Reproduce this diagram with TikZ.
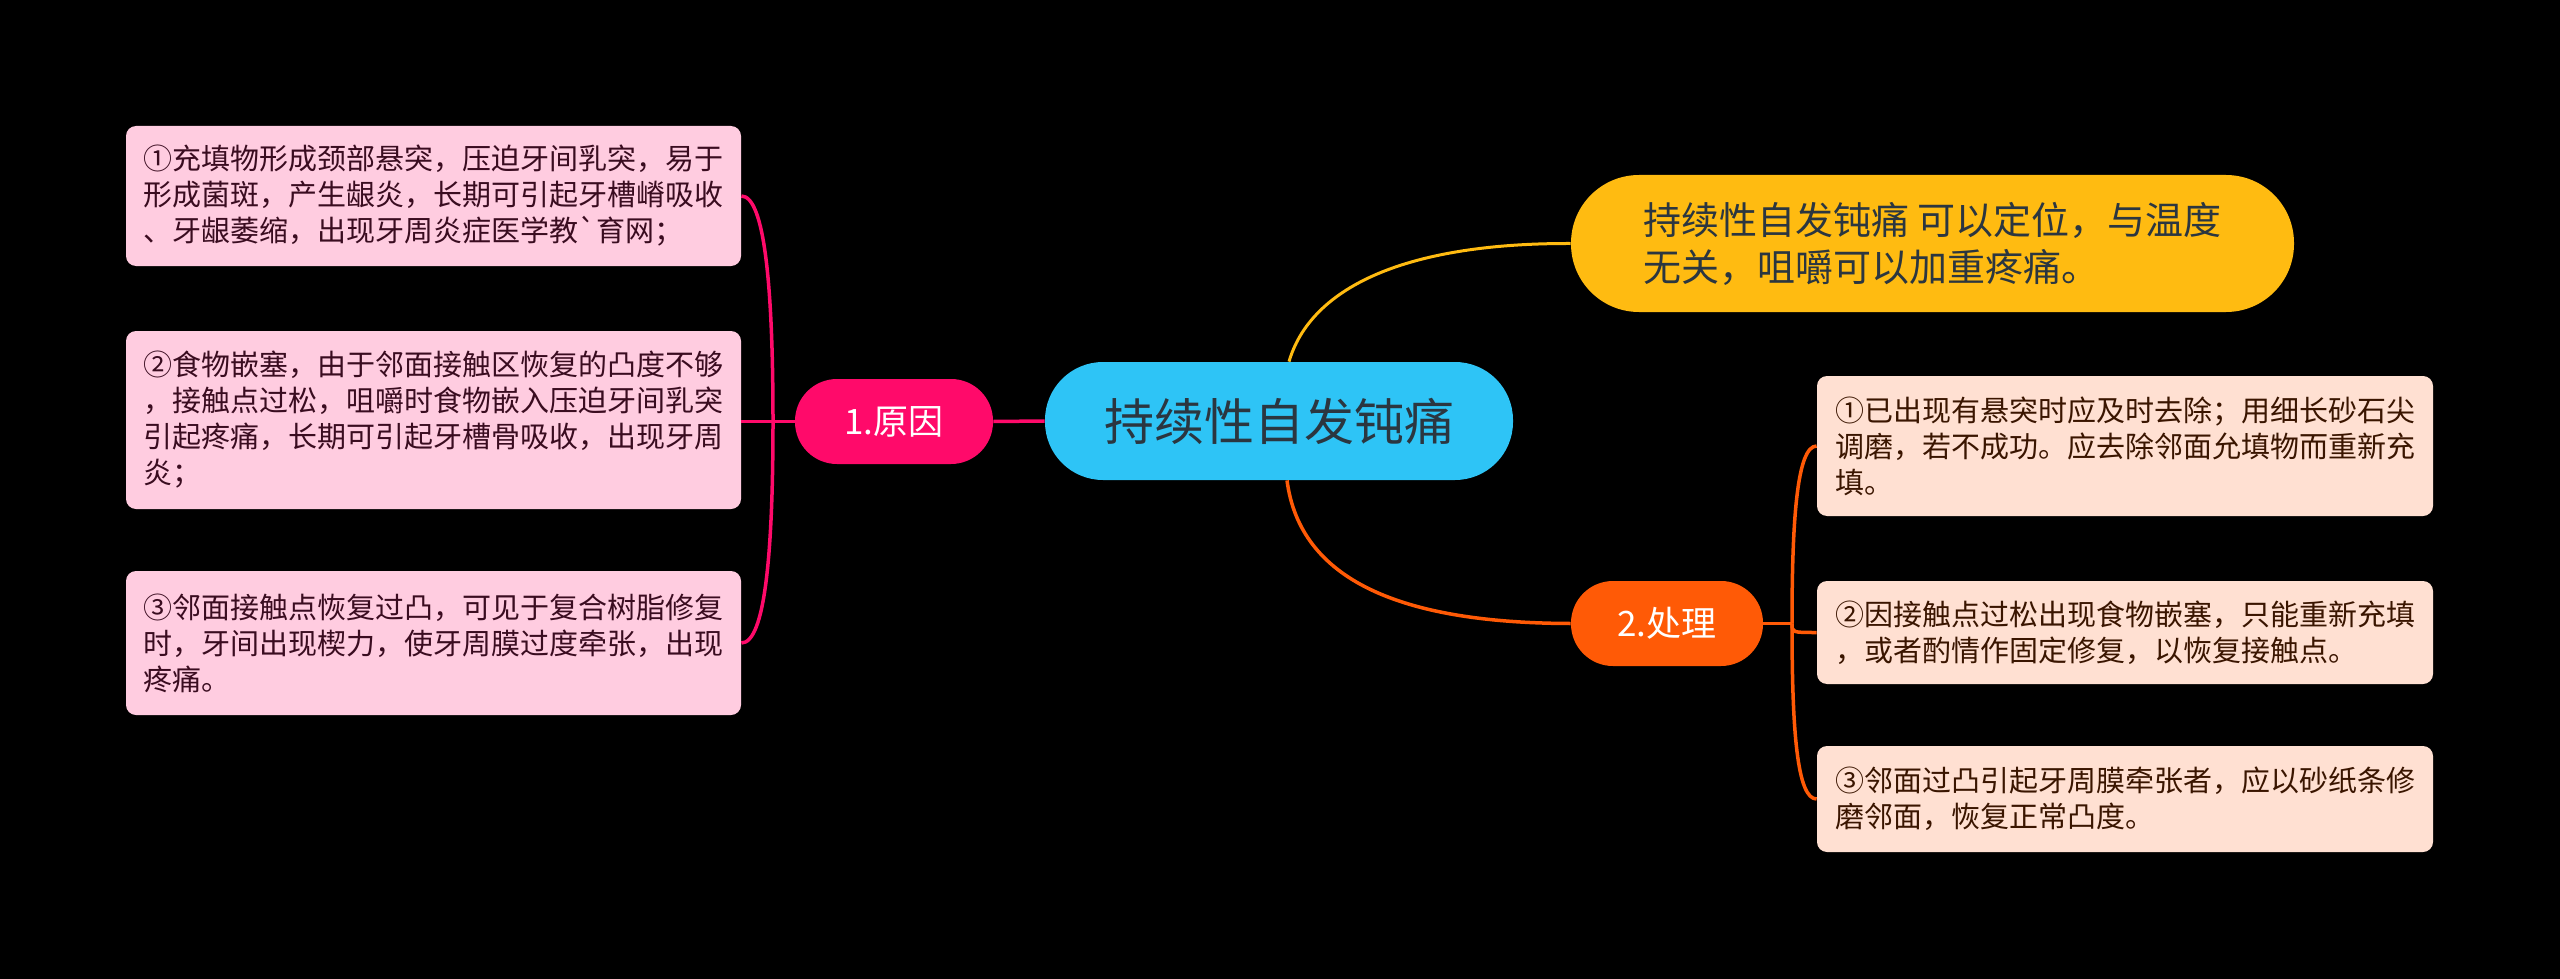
\documentclass[tikz,border=0pt]{standalone}
\usepackage{fontspec}
\setmainfont{Noto Sans CJK SC}[Ligatures=TeXOff]
\definecolor{cmain}{HTML}{2EC4F6}
\definecolor{ctext}{HTML}{2B3640}
\definecolor{cpink}{HTML}{FF0A6A}
\definecolor{cpinkbox}{HTML}{FFCCE0}
\definecolor{cpinktext}{HTML}{3A0C20}
\definecolor{cyel}{HTML}{FFBB11}
\definecolor{corange}{HTML}{FF5A06}
\definecolor{cpeach}{HTML}{FFE0D2}
\definecolor{cpeachtext}{HTML}{3A1500}
\begin{document}
\begin{tikzpicture}[x=0.5pt,y=-0.5pt,
  mainnode/.style={fill=cmain, rounded corners=29pt, minimum width=234pt, minimum height=59pt,
    inner sep=0pt, text=ctext, font=\fontsize{25}{30}\selectfont},
  branchnode/.style={rounded corners=21pt, minimum height=42.5pt, inner sep=0pt,
    text=white, font=\fontsize{17.5}{21}\selectfont},
  leafbox/.style={rounded corners=5pt, minimum width=307.5pt, inner sep=0pt, align=left,
    font=\fontsize{14.5}{18}\selectfont},
  pinkleaf/.style={leafbox, fill=cpinkbox, text=cpinktext},
  peachleaf/.style={leafbox, fill=cpeach, text=cpeachtext},
  yelnode/.style={fill=cyel, rounded corners=34pt, minimum width=361.5pt, minimum height=68.5pt,
    inner sep=0pt, align=left, text=ctext, font=\fontsize{19}{23.5}\selectfont},
  pinkline/.style={draw=cpink, line width=1.75pt},
  orangeline/.style={draw=corange, line width=1.75pt},
  yelline/.style={draw=cyel, line width=1.5pt}
]
\fill[black] (0,0) rectangle (2560,979);
\useasboundingbox (0,0) rectangle (2560,979);

\node[mainnode] (c) at (1279,421) {持续性自发钝痛};
\node[branchnode, fill=cpink, minimum width=99pt] (reason) at (894,421.5) {1.原因};
\node[branchnode, fill=corange, minimum width=96pt] (proc) at (1667,623.5) {2.处理};
\node[yelnode] (yel) at (1932.5,243.5) {持续性自发钝痛 可以定位，与温度\\无关，咀嚼可以加重疼痛。};

\node[pinkleaf, minimum height=70pt] (l1) at (433.5,196) {①充填物形成颈部悬突，压迫牙间乳突，易于\\形成菌斑，产生龈炎，长期可引起牙槽嵴吸收\\、牙龈萎缩，出现牙周炎症医学教\symbol{96}育网；};
\node[pinkleaf, minimum height=89pt] (l2) at (433.5,420) {②食物嵌塞，由于邻面接触区恢复的凸度不够\\，接触点过松，咀嚼时食物嵌入压迫牙间乳突\\引起疼痛，长期可引起牙槽骨吸收，出现牙周\\炎；};
\node[pinkleaf, minimum height=72pt] (l3) at (433.5,643) {③邻面接触点恢复过凸，可见于复合树脂修复\\时，牙间出现楔力，使牙周膜过度牵张，出现\\疼痛。};

\node[peachleaf, minimum width=308pt, minimum height=70pt] (r1) at (2125,446) {①已出现有悬突时应及时去除；用细长砂石尖\\调磨，若不成功。应去除邻面允填物而重新充\\填。};
\node[peachleaf, minimum width=308pt, minimum height=51.5pt] (r2) at (2125,632.5) {②因接触点过松出现食物嵌塞，只能重新充填\\，或者酌情作固定修复，以恢复接触点。};
\node[peachleaf, minimum width=308pt, minimum height=53pt] (r3) at (2125,799) {③邻面过凸引起牙周膜牵张者，应以砂纸条修\\磨邻面，恢复正常凸度。};

% central connectors
\draw[pinkline] (c.west) -- (reason.east);
\draw[yelline] ([xshift=5pt]c.north) .. controls (1310,290) and (1400,243) .. (yel.west);
\draw[orangeline] ([xshift=4pt]c.south) .. controls (1300,580) and (1400,623) .. (proc.west);

% left branch
\coordinate (ls) at (773,421.5);
\draw[pinkline] (reason.west) -- (reason.west -| l2.east);
\draw[pinkline] (ls) .. controls (773,290) and (765,196) .. (l1.east);
\draw[pinkline] (ls) .. controls (773,553) and (765,643) .. (l3.east);

% right branch
\coordinate (rs) at (1792,623.5);
\draw[orangeline] (proc.east) -- (rs);
\draw[orangeline] (rs) .. controls (1792,520) and (1797,446) .. (r1.west);
\draw[orangeline] (rs) .. controls (1792,632.5) .. (r2.west);
\draw[orangeline] (rs) .. controls (1792,730) and (1797,799) .. (r3.west);
\end{tikzpicture}
\end{document}
